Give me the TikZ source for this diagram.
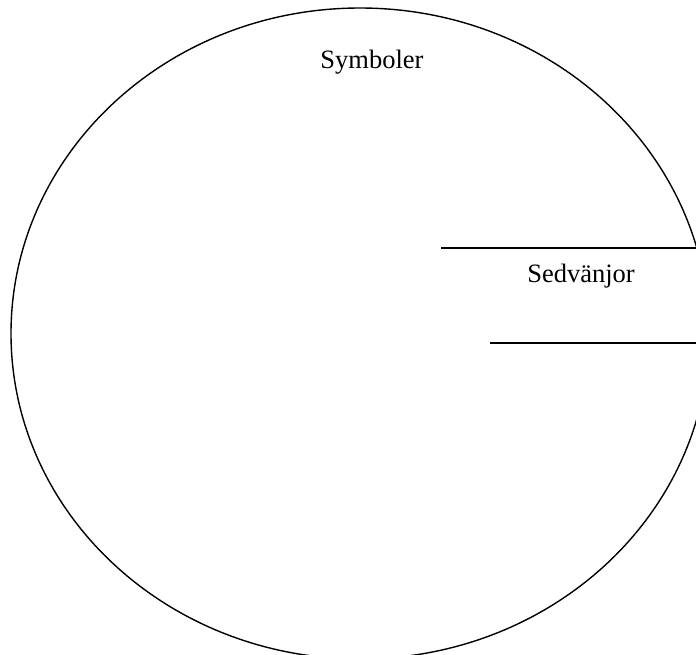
\documentclass[tikz,border=0pt]{standalone}
\usepackage{fontspec}
\setmainfont{Liberation Serif}
\begin{document}
\begin{tikzpicture}[x=1pt,y=-1pt,
  lbl/.style={font=\fontsize{26.5}{30}\selectfont, inner sep=0pt, anchor=base},
  ln/.style={line width=1.4pt}]
\useasboundingbox (0,0) rectangle (696,654);
\clip (0,0) rectangle (696,654);
\draw[ln] (360,333.5) ellipse [x radius=349, y radius=325.5];
\node[lbl] (sym) at (372,68) {Symboler};
\node[lbl] (sed) at (581,282) {Sedvänjor};
\coordinate (a1) at (441,248);
\coordinate (a2) at (696,248);
\coordinate (b1) at (490,343);
\coordinate (b2) at (696,343);
\draw[ln] (a1) -- (a2);
\draw[ln] (b1) -- (b2);
\end{tikzpicture}
\end{document}
